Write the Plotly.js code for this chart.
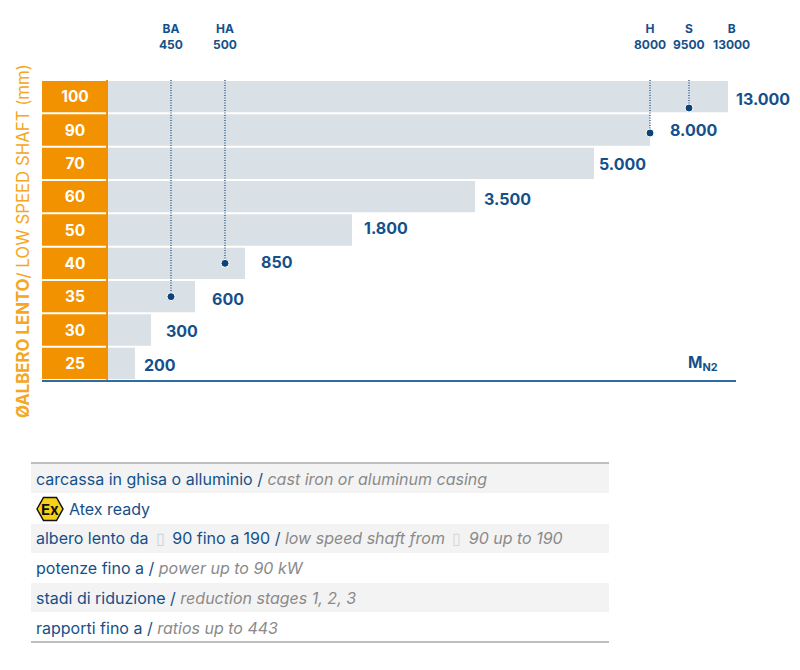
<!DOCTYPE html>
<html><head><meta charset="utf-8">
<script src="https://cdn.plot.ly/plotly-3.0.1.min.js"></script>
<style>html,body{margin:0;padding:0;background:#fff}#c{width:800px;height:670px}</style>
</head><body><div id="c"></div>
<script>
// Data
const shaftLabels = ['25','30','35','40','50','60','70','90','100'];
const torqueLabels = ['200','300','600','850','1.800','3.500','5.000','8.000','13.000'];
// the printed scale is not linear: drawn length of each bar on the chart's own axis
const barLengths = [27,43,87,137,244,367,486,542,620];
const pinNames = ['BA','HA','H','S','B'];
const pinValues = ['450','500','8000','9500','13000'];
const pinPositions = [63,117,542,581,618];
const pinRows = [2,3,6.91,7.66,8.53];
const tableIt = ['carcassa in ghisa o alluminio','','albero lento da ▯ 90 fino a 190','potenze fino a','stadi di riduzione','rapporti fino a'];
const tableEn = ['cast iron or aluminum casing','','low speed shaft from ▯ 90 up to 190','power up to 90 kW','reduction stages 1, 2, 3','ratios up to 443'];

// Styling
const W=800,H=670;
const FONT='Inter, "Open Sans", sans-serif';
const BLUE='#15508a',DARK='#0d4478',ORANGE='#f39200',GREY='#d9e0e6',LINE='#2f6ca3',ITAL='#8a8a8a';
const px=x=>x/W, py=y=>1-y/H;
const labelGap=[7,13,15,14,10,7,3,18,6];
const labelDrop=[2,1,2,-1,-2,2,1,0,2];
const pinShift=[0,0,0,0,5];
const pinTop=9.25, rows=shaftLabels.map((_,i)=>i);
const span=(c,t)=>'<span style="color:'+c+'">'+t+'</span>';
const boxGlyph=c=>'\u2009'+span(c,'▯')+'\u2009';
const itPart=t=>t.split('▯').map(s=>span(BLUE,s)).join(boxGlyph('#c5d3df'));
const enPart=t=>t.split('▯').map(s=>'<i>'+span(ITAL,s)+'</i>').join(boxGlyph('#d6d6d6'));

const traces=[
 {type:'bar',orientation:'h',y:rows,x:barLengths,width:0.94,marker:{color:GREY},hoverinfo:'skip'},
 {type:'bar',orientation:'h',y:rows,x:rows.map(()=>66),base:-66,width:0.94,marker:{color:ORANGE},
  text:shaftLabels,textposition:'inside',insidetextanchor:'middle',textangle:0,
  textfont:{family:FONT,size:15.5,color:'#fff',weight:700},hoverinfo:'skip'}
];
pinNames.forEach((n,i)=>traces.push({type:'scatter',mode:'lines+markers',cliponaxis:false,
  x:[pinPositions[i],pinPositions[i]],y:[pinTop,pinRows[i]],
  line:{color:DARK,width:1.2,dash:'1px,1.5px'},marker:{color:DARK,opacity:1,size:[0,8]},hoverinfo:'skip'}));

const ann=[];
rows.forEach(i=>ann.push({xref:'x',yref:'y',x:barLengths[i],y:rows[i],xanchor:'left',yanchor:'middle',xshift:labelGap[i],yshift:-labelDrop[i],
  showarrow:false,text:'<b>'+torqueLabels[i]+'</b>',font:{family:FONT,size:16,color:BLUE}}));
pinNames.forEach((n,i)=>ann.push({xref:'x',yref:'paper',x:pinPositions[i],xshift:pinShift[i],y:py(37),xanchor:'center',yanchor:'middle',
  showarrow:false,align:'center',text:'<b>'+n+'<br>'+pinValues[i]+'</b>',font:{family:FONT,size:12,color:BLUE}}));
ann.push({xref:'paper',yref:'paper',x:px(686),y:py(364),xanchor:'left',yanchor:'middle',showarrow:false,
  text:'<b>M<sub>N2</sub></b>',font:{family:FONT,size:15.5,color:BLUE}});
ann.push({xref:'paper',yref:'paper',x:px(23),y:py(241),xanchor:'center',yanchor:'middle',textangle:-90,showarrow:false,
  text:'<b>ØALBERO LENTO</b>/ LOW SPEED SHAFT (mm)',font:{family:FONT,size:16.8,color:'#f5a623'}});

const shapes=[
 {type:'rect',xref:'x',yref:'y',x0:-2,x1:0,y0:-0.5,y1:8.5,fillcolor:ORANGE,line:{width:0},layer:'below'}
];
[[464,493],[524,553],[583,612]].forEach(r=>shapes.push({type:'rect',xref:'paper',yref:'paper',x0:px(31),x1:px(609),y0:py(r[0]),y1:py(r[1]),fillcolor:'#f3f3f3',line:{width:0},layer:'below'}));
[463,642].forEach(y=>shapes.push({type:'line',xref:'paper',yref:'paper',x0:px(31),x1:px(609),y0:py(y),y1:py(y),line:{color:'#a9a9a9',width:1.5}}));

const rowY=[479,509,538,568,598,628];
tableIt.forEach((t,i)=>{ if(!t) return;
  ann.push({xref:'paper',yref:'paper',x:px(34),y:py(rowY[i]),xanchor:'left',yanchor:'middle',showarrow:false,
   text:itPart(t)+span(BLUE,' / ')+enPart(tableEn[i]),
   font:{family:FONT,size:16,color:BLUE}});
});
ann.push({xref:'paper',yref:'paper',x:px(67),y:py(rowY[1]),xanchor:'left',yanchor:'middle',showarrow:false,
  text:'Atex ready',font:{family:FONT,size:16,color:BLUE}});
// Ex badge
const hex=[[37,509],[43.5,497.5],[56.5,497.5],[63,509],[56.5,520.5],[43.5,520.5]];
shapes.push({type:'path',xref:'paper',yref:'paper',
  path:'M'+hex.map(p=>px(p[0])+','+py(p[1])).join(' L')+' Z',fillcolor:'#f7d117',line:{color:'#111',width:1.5}});
ann.push({xref:'paper',yref:'paper',x:px(50),y:py(509),xanchor:'center',yanchor:'middle',showarrow:false,
  text:'<b>Ex</b>',font:{family:FONT,size:15,color:'#111'}});

const layout={width:W,height:H,margin:{l:0,r:0,t:0,b:0},paper_bgcolor:'#fff',plot_bgcolor:'#fff',showlegend:false,barmode:'overlay',
 xaxis:{domain:[px(42),px(736)],range:[-66,628],showgrid:false,zeroline:false,showticklabels:false,ticks:'',
   showline:true,linecolor:LINE,linewidth:1.5},
 yaxis:{domain:[py(380),py(80)],range:[-0.5,8.5],showgrid:false,zeroline:false,showticklabels:false,ticks:'',showline:false},
 annotations:ann,shapes:shapes};
Plotly.newPlot('c',traces,layout,{displayModeBar:false,staticPlot:true});
</script></body></html>
